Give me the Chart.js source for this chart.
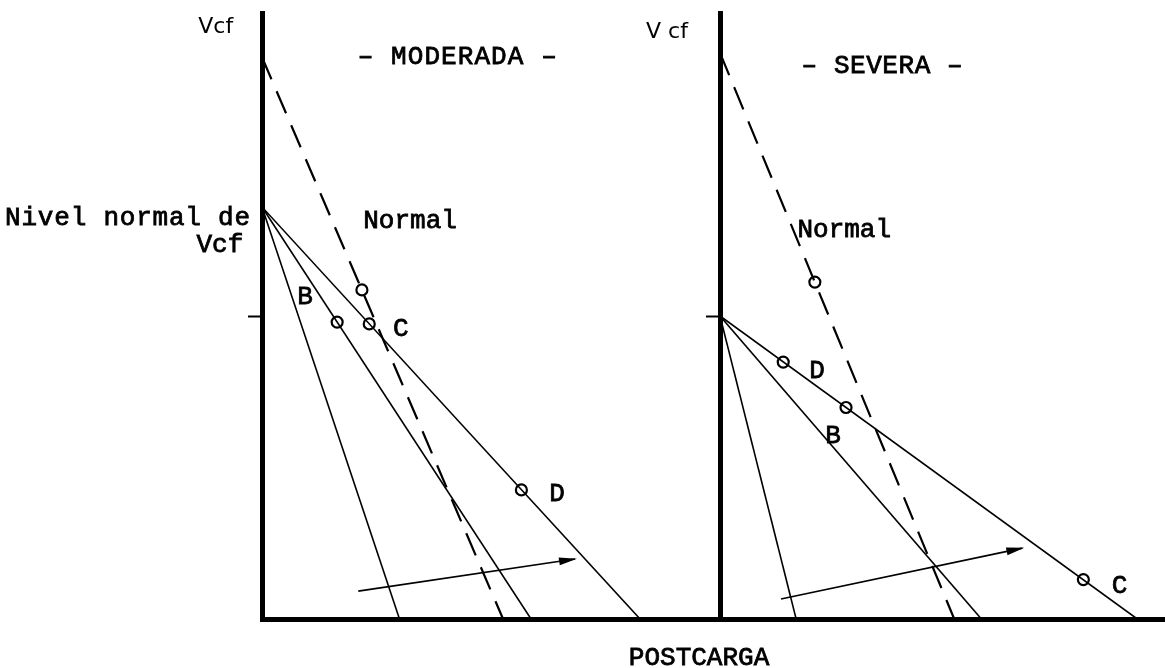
<!DOCTYPE html>
<html lang="es">
<head>
<meta charset="utf-8">
<title>Vcf y postcarga</title>
<script src="https://cdn.jsdelivr.net/npm/chart.js@4.4.1/dist/chart.umd.min.js"></script>
<style>
  html, body { margin: 0; background: #fff; }
  #lienzo { position: relative; width: 1165px; height: 668px; overflow: hidden; }
  #moderada { position: absolute; left: 0; top: 0; }
  #severa { position: absolute; left: 560px; top: 0; }
</style>
</head>
<body>
<div id="lienzo">
  <canvas id="moderada" width="728" height="668"></canvas>
  <canvas id="severa" width="613" height="668"></canvas>
</div>
<script>
// ===== Datos (Vcf 0-10 en vertical, postcarga 0-10 en horizontal) =====
const marcasY = [5];

// Panel "MODERADA"
const modNormal = [{x: 0, y: 9.27}, {x: 5.26, y: 0}];
const modRecta1 = [{x: 0, y: 6.8}, {x: 3.0, y: 0}];
const modRecta2 = [{x: 0, y: 6.8}, {x: 5.87, y: 0}];
const modRecta3 = [{x: 0, y: 6.8}, {x: 8.25, y: 0}];
const modPuntos = [{x: 2.18, y: 5.43}, {x: 1.64, y: 4.9}, {x: 2.34, y: 4.87}, {x: 5.66, y: 2.13}];
const modFlecha = [{x: 2.1, y: 0.46}, {x: 6.83, y: 0.99}];

// Panel "SEVERA"
const sevNormal = [{x: 0, y: 9.34}, {x: 5.26, y: 0}];
const sevRecta1 = [{x: 0, y: 5}, {x: 1.71, y: 0}];
const sevRecta2 = [{x: 0, y: 5}, {x: 5.87, y: 0}];
const sevRecta3 = [{x: 0, y: 5}, {x: 9.37, y: 0}];
const sevPuntos = [{x: 2.13, y: 5.56}, {x: 1.42, y: 4.24}, {x: 2.83, y: 3.49}, {x: 8.16, y: 0.65}];
const sevFlecha = [{x: 1.37, y: 0.33}, {x: 6.79, y: 1.17}];

// ===== Estilos =====
const maquina = '26px "Liberation Mono", "Courier New", monospace';
const fina = '22px "DejaVu Sans", sans-serif';

// ===== Plugins =====
// textos colocados en coordenadas de los ejes; "ancho" ajusta el espaciado entre letras
const rotulos = {
  id: 'rotulos',
  afterDraw(chart, args, opts) {
    const {ctx, scales: {x, y}} = chart;
    ctx.save();
    ctx.fillStyle = '#000';
    ctx.strokeStyle = '#000';
    ctx.textBaseline = 'alphabetic';
    (opts.items || []).forEach(t => {
      ctx.font = t.font || maquina;
      ctx.textAlign = t.align || 'center';
      let px = x.getPixelForValue(t.x);
      const py = y.getPixelForValue(t.y);
      ctx.letterSpacing = '0px';
      if (t.ancho && t.text.length > 1) {
        const esp = (t.ancho - ctx.measureText(t.text).width) / (t.text.length - 1);
        ctx.letterSpacing = esp + 'px';
        // el espaciado final también cuenta al alinear
        if (ctx.textAlign === 'center') px += esp / 2;
        if (ctx.textAlign === 'right') px += esp;
      }
      ctx.fillText(t.text, px, py);
      if (!t.font) {
        // trazo de tinta de máquina de escribir
        ctx.lineWidth = 0.8;
        ctx.strokeText(t.text, px, py);
      }
    });
    ctx.restore();
  }
};

// punta de flecha al final de los datasets marcados
const puntas = {
  id: 'puntas',
  afterDatasetsDraw(chart) {
    const ctx = chart.ctx;
    chart.data.datasets.forEach((ds, i) => {
      if (!ds.flecha) return;
      const pts = chart.getDatasetMeta(i).data;
      const a = pts[pts.length - 2], b = pts[pts.length - 1];
      const ang = Math.atan2(b.y - a.y, b.x - a.x);
      ctx.save();
      ctx.translate(b.x, b.y);
      ctx.rotate(ang);
      ctx.beginPath();
      ctx.moveTo(2, 0);
      ctx.lineTo(-16, -4);
      ctx.lineTo(-16, 4);
      ctx.closePath();
      ctx.fillStyle = '#000';
      ctx.fill();
      ctx.restore();
    });
  }
};

function recta(data, discontinua) {
  return {
    data, showLine: true, pointRadius: 0,
    borderColor: '#000', borderWidth: discontinua ? 2.2 : 1.6,
    borderDash: discontinua ? [24, 13] : []
  };
}

function flecha(data) {
  return { data, showLine: true, pointRadius: 0, borderColor: '#000', borderWidth: 1.6, flecha: true };
}

function puntos(data) {
  return {
    data, showLine: false, pointRadius: 5.5, pointBorderWidth: 2.2,
    pointBorderColor: '#000', pointBackgroundColor: '#fff'
  };
}

function panel(id, padIzq, datasets, textos) {
  return new Chart(document.getElementById(id), {
    type: 'scatter',
    data: { datasets },
    options: {
      responsive: false,
      animation: false,
      devicePixelRatio: 1,
      events: [],
      layout: { padding: { left: padIzq, top: 13, right: 0, bottom: 49 } },
      plugins: { legend: { display: false }, tooltip: { enabled: false }, rotulos: { items: textos } },
      scales: {
        x: {
          type: 'linear', min: 0, max: 10,
          grid: { display: false, drawTicks: false },
          ticks: { display: false },
          border: { width: 5, color: '#000' }
        },
        y: {
          type: 'linear', min: 0, max: 10,
          afterBuildTicks: s => { s.ticks = marcasY.map(v => ({value: v})); },
          grid: { drawOnChartArea: false, drawTicks: true, tickLength: 14, tickWidth: 2, color: '#000' },
          ticks: { display: false },
          border: { width: 5, color: '#000' }
        }
      }
    },
    plugins: [rotulos, puntas]
  });
}

// ===== MODERADA =====
panel('moderada', 248, [
  recta(modNormal, true),
  recta(modRecta1), recta(modRecta2), recta(modRecta3),
  flecha(modFlecha),
  puntos(modPuntos)
], [
  {text: 'Vcf', x: -0.63, y: 9.67, font: fina, align: 'right'},
  {text: '– MODERADA –', x: 4.26, y: 9.16, ancho: 199},
  {text: 'Nivel normal de', x: -0.26, y: 6.5, align: 'right', ancho: 245},
  {text: 'Vcf', x: -0.92, y: 6.06},
  {text: 'Normal', x: 3.23, y: 6.45},
  {text: 'B', x: 0.94, y: 5.2},
  {text: 'C', x: 3.03, y: 4.67},
  {text: 'D', x: 6.44, y: 1.95}
]);

// ===== SEVERA =====
panel('severa', 146, [
  recta(sevNormal, true),
  recta(sevRecta1), recta(sevRecta2), recta(sevRecta3),
  flecha(sevFlecha),
  puntos(sevPuntos)
], [
  {text: 'V cf', x: -0.72, y: 9.59, font: fina, align: 'right'},
  {text: '– SEVERA –', x: 3.64, y: 9.01, ancho: 161},
  {text: 'Normal', x: 2.79, y: 6.3},
  {text: 'D', x: 2.18, y: 3.98},
  {text: 'B', x: 2.54, y: 2.9},
  {text: 'C', x: 8.97, y: 0.43},
  {text: 'POSTCARGA', x: -0.47, y: -0.76}
]);
</script>
</body>
</html>
